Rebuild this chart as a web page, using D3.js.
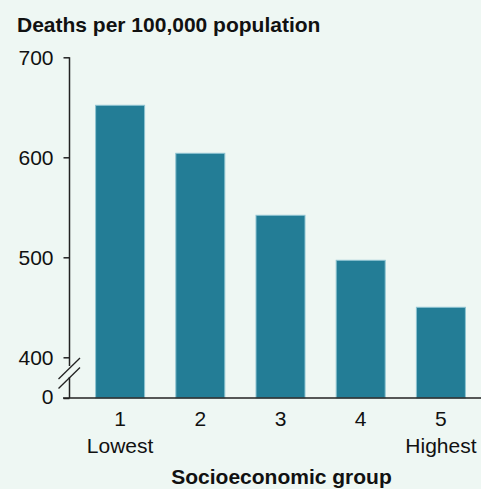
<!DOCTYPE html>
<html><head><meta charset="utf-8">
<script src="https://cdn.jsdelivr.net/npm/d3@7"></script>
<style>
html,body{margin:0;padding:0;background:#eef7f3;}
svg{display:block;font-family:"Liberation Sans",Arial,sans-serif;}
</style></head>
<body>
<script>
const groups = ["1","2","3","4","5"];
const groupNotes = ["Lowest","","","","Highest"];
const deaths = [652, 604, 542, 497, 450];
const yTicks = [400, 500, 600, 700];
const yTitle = "Deaths per 100,000 population";
const xTitle = "Socioeconomic group";

const W = 481, H = 489;
const FS = "21px";
const svg = d3.select("body").append("svg").attr("width", W).attr("height", H);
svg.append("rect").attr("width", W).attr("height", H).attr("fill", "#eef7f3");

const axisX = 69.5, baseY = 398;
const y = d3.scaleLinear().domain([400, 700]).range([357.3, 57.3]);
const x = d3.scaleBand().domain(groups).range([80, 481]).paddingInner(0.3766).paddingOuter(0.1883);

// bars
svg.selectAll("rect.bar").data(deaths).enter().append("rect")
  .attr("class", "bar")
  .attr("x", (d, i) => x(groups[i]) + 0.5)
  .attr("y", d => y(d))
  .attr("width", x.bandwidth() - 1)
  .attr("height", d => baseY - y(d))
  .attr("fill", "#237d96")
  .attr("stroke", "#8ec4d1")
  .attr("stroke-width", 1);

// y axis
const gy = svg.append("g").attr("transform", `translate(${axisX},0)`)
  .call(d3.axisLeft(y).tickValues(yTicks).tickSize(6).tickPadding(10).tickSizeOuter(0));
gy.select(".domain").remove();
gy.selectAll(".tick line").attr("stroke", "#222").attr("stroke-width", 1.5);
gy.selectAll(".tick text").attr("font-size", FS).attr("fill", "#111")
  .attr("font-family", "Liberation Sans, Arial, sans-serif");

// zero label
const y0 = d3.scaleLinear().domain([0, 1]).range([baseY, baseY - 1]);
const g0 = svg.append("g").attr("transform", `translate(${axisX},0)`)
  .call(d3.axisLeft(y0).tickValues([0]).tickFormat(d3.format("d")).tickSize(6).tickPadding(10));
g0.select(".domain").remove();
g0.selectAll(".tick line").attr("stroke", "#222").attr("stroke-width", 1.5);
g0.selectAll(".tick text").attr("font-size", FS).attr("fill", "#111")
  .attr("font-family", "Liberation Sans, Arial, sans-serif").attr("dy", "0.26em");

// y axis line with break
svg.append("line").attr("x1", axisX).attr("x2", axisX).attr("y1", y(700)).attr("y2", 366)
  .attr("stroke", "#222").attr("stroke-width", 1.5);
svg.append("line").attr("x1", axisX).attr("x2", axisX).attr("y1", 377).attr("y2", baseY)
  .attr("stroke", "#222").attr("stroke-width", 1.5);
[[58.5, 379, 80, 358], [58.5, 388.5, 80, 367.5]].forEach(s => {
  svg.append("line").attr("x1", s[0]).attr("y1", s[1]).attr("x2", s[2]).attr("y2", s[3])
    .attr("stroke", "#222").attr("stroke-width", 1.3);
});

// x axis line
svg.append("line").attr("x1", 63).attr("x2", W).attr("y1", baseY).attr("y2", baseY)
  .attr("stroke", "#222").attr("stroke-width", 1.5);

// x labels
const gx = svg.append("g").attr("transform", `translate(0,${baseY})`)
  .call(d3.axisBottom(x).tickSize(0).tickPadding(13));
gx.select(".domain").remove();
gx.selectAll(".tick text").attr("font-size", FS).attr("fill", "#111")
  .attr("font-family", "Liberation Sans, Arial, sans-serif");
gx.selectAll(".tick").append("text")
  .text((d, i) => groupNotes[i])
  .attr("y", 55).attr("text-anchor", "middle")
  .attr("font-size", FS).attr("fill", "#111")
  .attr("font-family", "Liberation Sans, Arial, sans-serif");

// titles
svg.append("text").attr("x", 17).attr("y", 31.5).text(yTitle)
  .attr("font-size", "21px").attr("font-weight", "bold").attr("fill", "#111");
svg.append("text").attr("x", 281.5).attr("y", 484).attr("text-anchor", "middle").text(xTitle)
  .attr("font-size", "21px").attr("font-weight", "bold").attr("fill", "#111");
</script>
</body></html>
